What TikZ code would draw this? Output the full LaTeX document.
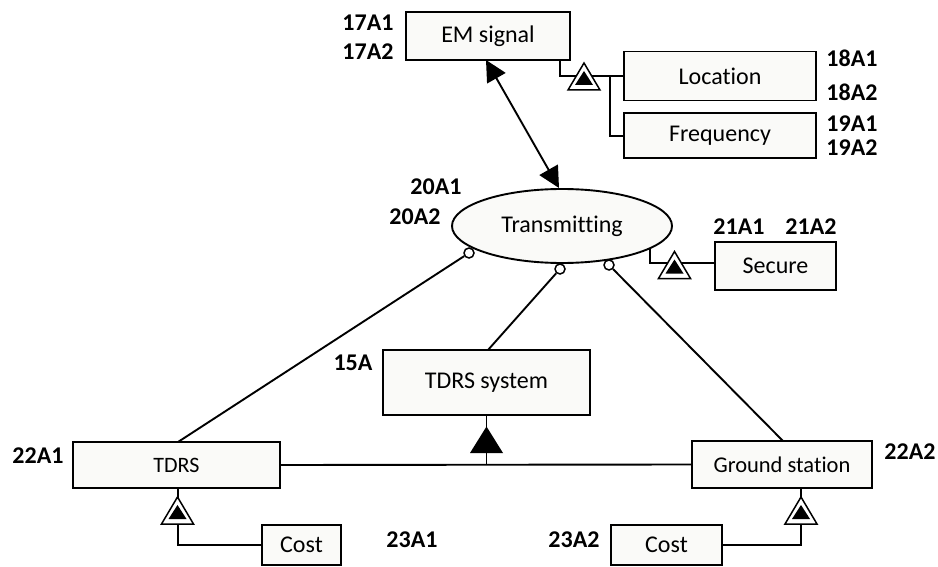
\documentclass[tikz,border=0pt]{standalone}
\usepackage{fontspec}
\setmainfont{Carlito}[Ligatures=NoCommon]
\usetikzlibrary{arrows.meta,shapes.geometric}
\definecolor{boxfill}{RGB}{250,250,248}
\begin{document}
\begin{tikzpicture}[x=1pt,y=-1pt,line width=1.9pt,
  box/.style={draw,fill=boxfill,rectangle,inner sep=0pt,font=\fontsize{24}{28}\selectfont},
  lab/.style={font=\bfseries\fontsize{24}{28}\selectfont,inner sep=0pt},
  circ/.style={circle,draw,fill=white,minimum size=10pt,inner sep=0pt,line width=1.5pt},
  aggtri/.pic={\draw[fill=white,line width=1.5pt] (-16,13.5)--(16,13.5)--(0,-13.5)--cycle;
               \fill (-9,8.5)--(9,8.5)--(0,-5.5)--cycle;},
  conn/.style={line width=1.9pt}]
\useasboundingbox (0,0) rectangle (938,567);
% nodes
\node[box,minimum width=164pt,minimum height=48pt] (em) at (488,36) {EM signal};
\node[box,minimum width=192pt,minimum height=49pt] (loc) at (720,76) {Location};
\node[box,minimum width=192pt,minimum height=45pt] (freq) at (720,135.5) {Frequency};
\node[draw,ellipse,fill=boxfill,minimum width=220pt,minimum height=74pt,inner sep=0pt,font=\fontsize{24}{28}\selectfont] (trans) at (562,226) {Transmitting};
\node[box,minimum width=121pt,minimum height=48pt] (sec) at (775.5,266) {Secure};
\node[box,minimum width=207pt,minimum height=65pt] (sys) at (486.5,382.5) {TDRS system};
\node[box,minimum width=207pt,minimum height=46pt,font=\fontsize{22}{26}\selectfont] (tdrs) at (176.5,465) {TDRS};
\node[box,minimum width=180pt,minimum height=47pt,font=\fontsize{22.5}{26}\selectfont] (gs) at (782,464.5) {Ground station};
\node[box,minimum width=79pt,minimum height=40pt] (c1) at (301.5,545) {Cost};
\node[box,minimum width=111pt,minimum height=40pt] (c2) at (666.5,545) {Cost};
% labels
\node[lab] (l17a) at (368,23) {17A1};
\node[lab] (l17b) at (368,52) {17A2};
\node[lab] (l18a) at (852,58) {18A1};
\node[lab] (l18b) at (852,92) {18A2};
\node[lab] (l19a) at (852,124) {19A1};
\node[lab] (l19b) at (852,148) {19A2};
\node[lab] (l20a) at (436,187) {20A1};
\node[lab] (l20b) at (415,217) {20A2};
\node[lab] (l21a) at (739,227) {21A1};
\node[lab] (l21b) at (811,227) {21A2};
\node[lab] (l15) at (353,363) {15A};
\node[lab] (l22a) at (38,456) {22A1};
\node[lab] (l22b) at (910,452) {22A2};
\node[lab] (l23a) at (412,540) {23A1};
\node[lab] (l23b) at (574,540) {23A2};
% small circles
\node[circ] (o1) at (469,253) {};
\node[circ] (o2) at (560,269) {};
\node[circ] (o3) at (609,265) {};
% coordinates for connectors
\coordinate (emk) at (em.south -| 560,0);
\coordinate (j1) at (560,76);
\coordinate (j2) at (610,76);
\coordinate (j3) at (610,136);
\coordinate (tk) at (650,248);
\coordinate (t2) at (650,263);
\coordinate (hm) at (486.5,465);
\coordinate (tb) at (178,545);
\coordinate (gb) at (801,545);
% connectors
\draw[conn] (emk) -- (j1) -- (loc.west |- j1);
\draw[conn] (j2) -- (j3) -- (freq.west |- j3);
\draw[conn] (tk) -- (t2) -- (sec.west |- t2);
\draw[conn,{Triangle[length=21pt,width=21pt]}-{Triangle[length=21pt,width=21pt]}] (486,60) -- (559,188);
\draw[conn] (o1) -- (178,442);
\draw[conn] (o2) -- (488,350);
\draw[conn] (o3) -- (783,441);
\draw[conn] (tdrs.east) -- (gs.west);
\draw[conn] (sys.south) -- (hm);
\fill (470,453) -- (503,453) -- (486.5,426.5) -- cycle;
\draw[conn] (tdrs.south -| tb) -- (tb) -- (c1.west |- tb);
\draw[conn] (gs.south -| gb) -- (gb) -- (c2.east |- gb);
% aggregation triangles
\pic at (584,76.5) {aggtri};
\pic at (674.5,265) {aggtri};
\pic at (177.5,510.5) {aggtri};
\pic at (801,510.5) {aggtri};
\end{tikzpicture}
\end{document}
